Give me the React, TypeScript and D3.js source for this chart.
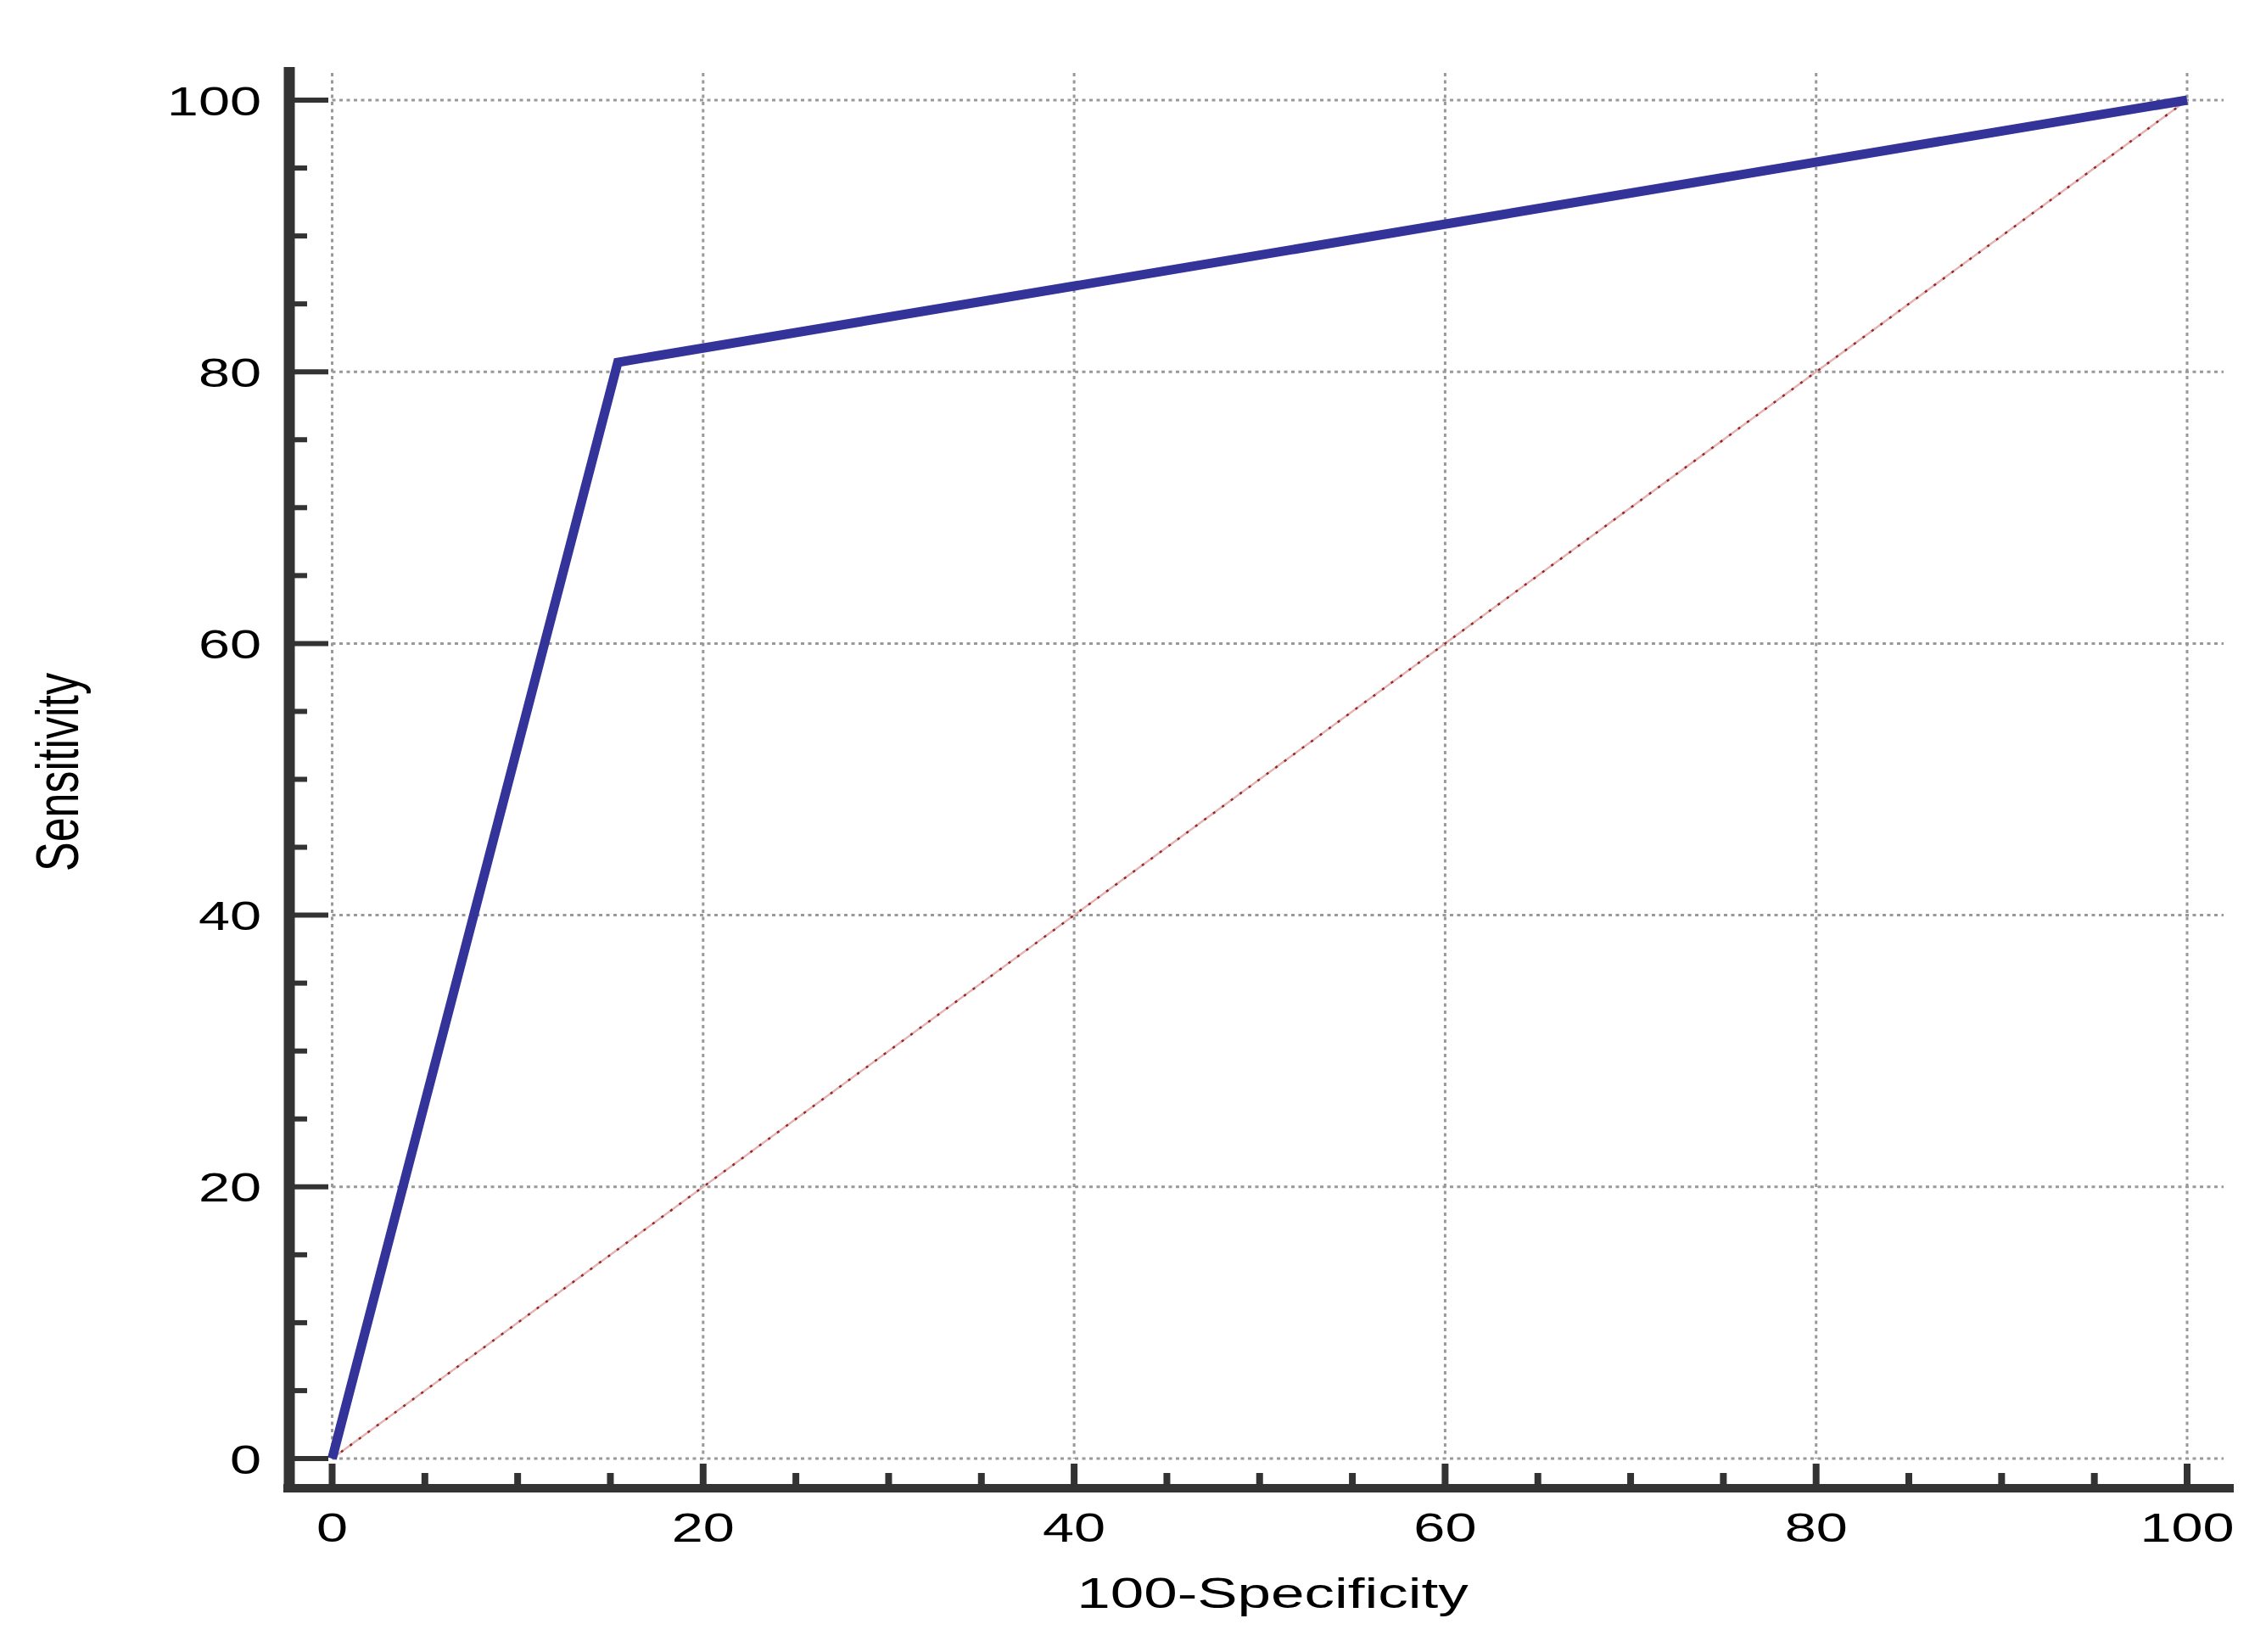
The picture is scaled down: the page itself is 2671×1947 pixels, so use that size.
import React from 'react'
import * as d3 from 'd3'

// ROC curve points (100-Specificity, Sensitivity)
const rocX = [0, 15.4, 100]
const rocY = [0, 80.7, 100]
// reference diagonal
const refX = [0, 100]
const refY = [0, 100]
const majorTicks = [0, 20, 40, 60, 80, 100]
const minorTicks = [5, 10, 15, 25, 30, 35, 45, 50, 55, 65, 70, 75, 85, 90, 95]
const xTitle = '100-Specificity'
const yTitle = 'Sensitivity'

const W = 2671, H = 1947
const FONT = '"Liberation Sans", Arial, sans-serif'
const STRETCH = 1.36

export default function App(){
  const x = d3.scaleLinear().domain([0, 100]).range([391.5, 2578])
  const y = d3.scaleLinear().domain([0, 100]).range([1719, 118])
  const axisX = 341, axisY = 1754
  const line = d3.line<number>().x((_, i) => x(rocX[i])).y((_, i) => y(rocY[i]))
  const refLine = d3.line<number>().x((_, i) => x(refX[i])).y((_, i) => y(refY[i]))

  return (
    <svg width={W} height={H} viewBox={`0 0 ${W} ${H}`} style={{position:'absolute', left:0, top:0, background:'#fff'}}>
      {/* grid */}
      <g stroke="#999" strokeWidth={3} strokeDasharray="4,4.5" fill="none">
        {majorTicks.map(t => <line key={'gx'+t} x1={x(t)} x2={x(t)} y1={86} y2={y(0)} />)}
        {majorTicks.map(t => <line key={'gy'+t} x1={x(0)} x2={2621} y1={y(t)} y2={y(t)} />)}
      </g>

      {/* diagonal reference */}
      <path d={refLine(refX) || ''} fill="none" stroke="#e2b4b4" strokeWidth={2.5} />
      <path d={refLine(refX) || ''} fill="none" stroke="#9b2323" strokeWidth={2.5} strokeDasharray="3,10" />

      {/* ROC curve */}
      <path d={line(rocX) || ''} fill="none" stroke="#333399" strokeWidth={11} strokeLinejoin="miter" />

      {/* axes */}
      <g stroke="#333" fill="none">
        <line x1={axisX} x2={axisX} y1={79} y2={1759} strokeWidth={13} />
        <line x1={334} x2={2633} y1={axisY} y2={axisY} strokeWidth={10} />
        {majorTicks.map(t => <line key={'ym'+t} x1={347} x2={387} y1={y(t)} y2={y(t)} strokeWidth={6} />)}
        {minorTicks.map(t => <line key={'yn'+t} x1={347} x2={362} y1={y(t)} y2={y(t)} strokeWidth={6} />)}
        {majorTicks.map(t => <line key={'xm'+t} x1={x(t)} x2={x(t)} y1={1749} y2={1725} strokeWidth={8} />)}
        {minorTicks.map(t => <line key={'xn'+t} x1={x(t)} x2={x(t)} y1={1749} y2={1736} strokeWidth={8} />)}
      </g>

      {/* tick labels */}
      <g fontFamily={FONT} fontSize={49} fill="#000">
        {majorTicks.map(t => (
          <text key={'yl'+t} transform={`translate(308,${y(t)}) scale(${STRETCH},1)`} textAnchor="end" dy="0.36em">{t}</text>
        ))}
        {majorTicks.map(t => (
          <text key={'xl'+t} transform={`translate(${x(t)},1817) scale(${STRETCH},1)`} textAnchor="middle">{t}</text>
        ))}
      </g>

      {/* axis titles */}
      <text transform={`translate(1500,1895) scale(1.42,1)`} textAnchor="middle" fontFamily={FONT} fontSize={50} fill="#000">{xTitle}</text>
      <text transform={`translate(92,910) scale(${STRETCH},1) rotate(-90)`} textAnchor="middle" fontFamily={FONT} fontSize={52} fill="#000">{yTitle}</text>
    </svg>
  )
}
